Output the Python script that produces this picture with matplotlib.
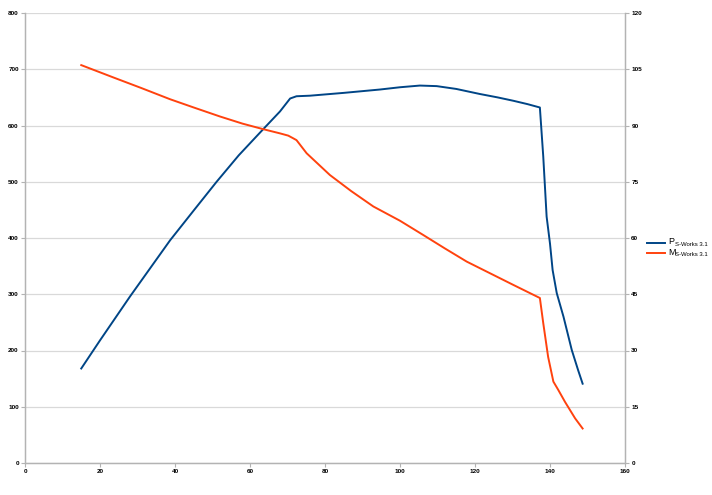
import matplotlib.pyplot as plt
from matplotlib.lines import Line2D

plt.rcParams['font.family'] = ['Liberation Sans', 'DejaVu Sans']

# power curve (left axis)
p_x = [15, 20, 28, 38.7, 45, 51.1, 57, 63.6, 68, 70.7, 72.4, 76, 85, 94.7, 100,
       105.3, 109.8, 115, 121.3, 126, 130.2, 134, 137.3, 138.2, 139.1, 140,
       140.7, 141.8, 143.6, 145.8, 147.5, 148.7]
p_y = [168, 218, 296, 396, 449, 500, 547, 594, 625, 648, 652, 653, 658, 664, 668,
       671, 670, 665, 656, 650, 644, 638, 632, 545, 438, 390, 343, 302, 260, 201,
       165, 141]

# torque curve (right axis)
m_x = [15, 23.6, 31, 38.7, 45, 52, 58, 63.6, 68, 70.2, 71.5, 72.4, 75.1, 81.3,
       87, 92.9, 100, 106.2, 112, 117.8, 124, 130.2, 137.3, 138.2, 139.5, 140.9,
       142.2, 144, 146.7, 148.7]
m_y = [106.1, 102.8, 100.0, 97.0, 94.8, 92.4, 90.5, 89.0, 87.9, 87.3, 86.6, 86.1,
       82.6, 76.8, 72.5, 68.4, 64.6, 60.8, 57.2, 53.7, 50.6, 47.5, 44.0, 37.3,
       28.3, 21.7, 19.5, 16.3, 11.9, 9.2]

series_names = ['P', 'M']
series_sub = 'S-Works 3.1'

blue = '#004586'
orange = '#ff420e'
grid = '#d9d9d9'

fig = plt.figure(figsize=(7.12, 4.95), dpi=100)
ax = fig.add_axes([25 / 712, 32 / 495, 600 / 712, 450 / 495])
ax2 = ax.twinx()

ax.plot(p_x, p_y, color=blue, lw=1.4)
ax2.plot(m_x, m_y, color=orange, lw=1.4)

ax.set_xlim(0, 160)
ax.set_ylim(0, 800)
ax2.set_ylim(0, 120)
ax.set_xticks(range(0, 161, 20))
ax.set_yticks(range(0, 801, 100))
ax2.set_yticks(range(0, 121, 15))

ax.yaxis.grid(True, color=grid, lw=0.9)
ax.set_axisbelow(True)

for a in (ax, ax2):
    a.spines['top'].set_visible(False)
    for side in ('left', 'right', 'bottom'):
        a.spines[side].set_color('#b3b3b3')
        a.spines[side].set_linewidth(0.9)
    a.tick_params(labelsize=4.6, length=3, width=0.8, color='#b3b3b3', pad=1.5,
                  labelcolor='#000000')
    for lab in a.get_xticklabels() + a.get_yticklabels():
        lab.set_fontweight('bold')

# legend drawn by hand so the subscript can be tiny like the original
colors = [blue, orange]
rows_y = [242.7, 253.3]
for name, col, yy in zip(series_names, colors, rows_y):
    fy = 1 - yy / 495
    fig.add_artist(Line2D([647 / 712, 665 / 712], [fy, fy], color=col, lw=1.4,
                          transform=fig.transFigure))
    fig.text(668.5 / 712, fy - 1.8 / 495, name, fontsize=6.5, va='baseline')
    fig.text(675 / 712, fy - 3.2 / 495, series_sub, fontsize=4.3,
             va='baseline')

fig.savefig('out.png', dpi=100)
